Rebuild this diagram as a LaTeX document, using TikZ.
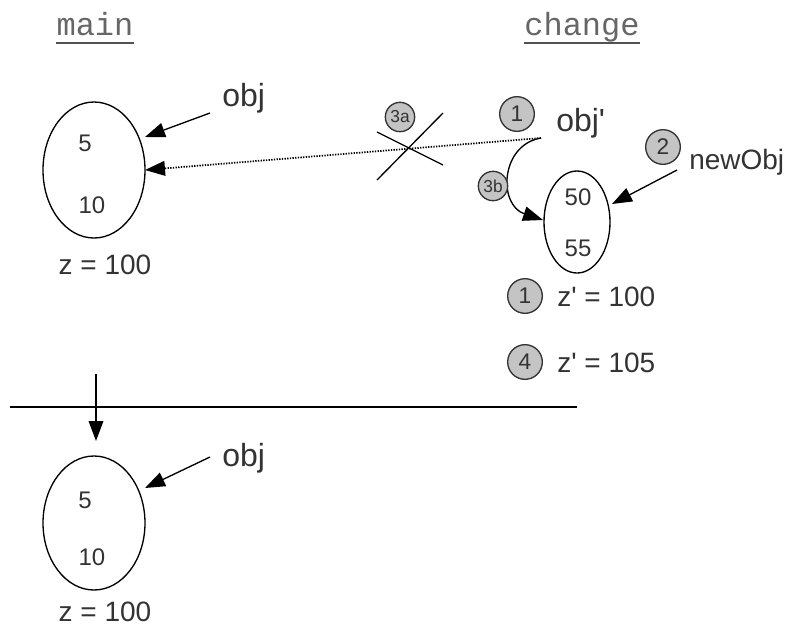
\documentclass[tikz,border=0pt]{standalone}
\usepackage{fontspec}
\setmainfont{Liberation Sans}
\newfontfamily\codefont{Liberation Mono}
\usetikzlibrary{arrows.meta}
\definecolor{txt}{HTML}{333333}
\definecolor{badge}{HTML}{C4C4C4}
\tikzset{
  lbl/.style={text=txt, font=\fontsize{21}{24}\selectfont, inner sep=0pt},
  big/.style={text=txt, font=\fontsize{24}{27}\selectfont, inner sep=0pt},
  num/.style={text=txt, font=\fontsize{18}{20}\selectfont, inner sep=0pt},
  head/.style={text=txt!75, font=\codefont\fontsize{24}{28}\selectfont, inner sep=0pt, anchor=base},
  badgec/.style={circle, draw=txt, line width=1pt, fill=badge, text=txt, inner sep=0pt, minimum size=26pt, font=\fontsize{17}{19}\selectfont},
  badges/.style={circle, draw=txt, line width=1pt, fill=badge, text=txt, inner sep=0pt, minimum size=22pt, font=\fontsize{13}{15}\selectfont},
  ptr/.style={line width=1pt, -{Triangle[length=15pt, width=11pt]}},
}
\newcommand{\q}{\textquotesingle}
\begin{document}
\begin{tikzpicture}[x=0.75pt, y=-0.75pt]
\useasboundingbox (0,0) rectangle (792,626);
% headings
\node[head] (hmain) at (95,35) {main};
\draw[txt!85, line width=1.3pt] ([yshift=-6pt]hmain.base west) -- ([yshift=-6pt]hmain.base east);
\node[head] (hchange) at (582,35) {change};
\draw[txt!85, line width=1.3pt] ([yshift=-6pt]hchange.base west) -- ([yshift=-6pt]hchange.base east);

% main top object
\draw[line width=1pt] (94,170) ellipse [x radius=51, y radius=68];
\coordinate (m1r) at (145,137);
\coordinate (m1m) at (145,170);
\node[num] (m1a) at (85,143) {5};
\node[num] (m1b) at (92,205) {10};
\node[lbl] (z1) at (105,265) {z = 100};
\node[big, anchor=base west] (obj1) at (222,106) {obj};
\coordinate (obj1s) at (210,113);
\draw[ptr] (obj1s) -- (m1r);

% change object
\draw[line width=1pt] (577,222) ellipse [x radius=33, y radius=51];
\coordinate (cL) at (543,220);
\coordinate (cR) at (612,204);
\node[num] (c1a) at (578,197) {50};
\node[num] (c1b) at (578,248) {55};

\node[big, anchor=base west] (objp) at (556,131) {obj\q};
\coordinate (objps) at (541,138);
\node[badgec] (b1) at (517,114) {1};
\draw[ptr, densely dotted, line width=1.3pt] (objps) -- (m1m);

% cross 3a
\coordinate (x1) at (377,132);
\coordinate (x2) at (443,165);
\coordinate (x3) at (443,113);
\coordinate (x4) at (377,180);
\draw[line width=1pt] (x1) -- (x2);
\draw[line width=1pt] (x3) -- (x4);
\node[badges] (b3a) at (400,117) {3a};

% 3b curved arrow
\draw[ptr] (objps) .. controls (500,145) and (498,205) .. (cL);
\node[badges] (b3b) at (493,186) {3b};

% newObj
\node[lbl, anchor=west] (newobj) at (689,162) {newObj};
\node[badgec] (b2) at (663,147) {2};
\coordinate (nos) at (677,170);
\draw[ptr] (nos) -- (cR);

% z' lines
\node[badgec] (b1z) at (525,296) {1};
\node[lbl, anchor=west] (zp1) at (557,297) {z\q{} = 100};
\node[badgec] (b4) at (525,362) {4};
\node[lbl, anchor=west] (zp2) at (557,363) {z\q{} = 105};

% separator
\coordinate (sepL) at (10,407);
\coordinate (sepR) at (577,407);
\draw[line width=1pt] (sepL) -- (sepR);
\coordinate (va) at (96,374);
\coordinate (vb) at (96,441);
\draw[ptr] (va) -- (vb);

% main bottom object
\draw[line width=1pt] (94,523) ellipse [x radius=51, y radius=67];
\coordinate (m2r) at (145,488);
\node[num] (m2a) at (85,500) {5};
\node[num] (m2b) at (92,557) {10};
\node[lbl] (z2) at (105,612) {z = 100};
\node[big, anchor=base west] (obj2) at (222,466) {obj};
\coordinate (obj2s) at (210,457);
\draw[ptr] (obj2s) -- (m2r);
\end{tikzpicture}
\end{document}
